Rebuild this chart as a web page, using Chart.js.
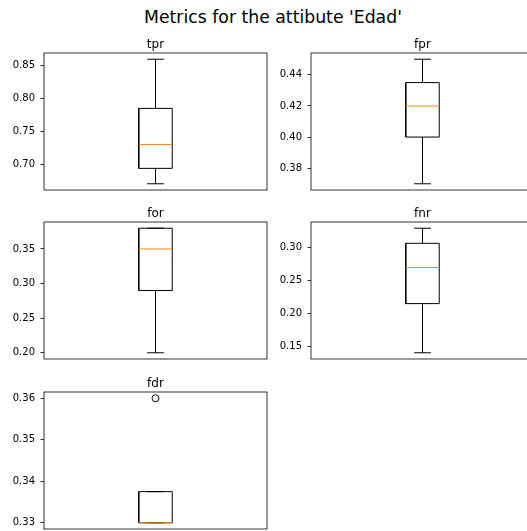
<!DOCTYPE html>
<html>
<head>
<meta charset="utf-8">
<script src="https://cdn.jsdelivr.net/npm/chart.js@4.4.1/dist/chart.umd.min.js"></script>
<style>
  body { margin: 0; background: #fff; overflow: hidden; width: 527px; height: 531px; position: relative; }
  #suptitle { position: absolute; left: 0; top: 9px; width: 546px; text-align: center;
              font: 17.28px 'DejaVu Sans'; line-height: 17.28px; color: #000; }
  canvas { position: absolute; }
</style>
</head>
<body>
<div id="suptitle">Metrics for the attibute 'Edad'</div>
<canvas id="c0"></canvas>
<canvas id="c1"></canvas>
<canvas id="c2"></canvas>
<canvas id="c3"></canvas>
<canvas id="c4"></canvas>
<script>
// box statistics per metric
const metrics = ['tpr', 'fpr', 'for', 'fnr', 'fdr'];
const whiskerLow = [0.67, 0.37, 0.20, 0.14, 0.33];
const q1 = [0.6935, 0.40, 0.29, 0.215, 0.33];
const median = [0.73, 0.42, 0.35, 0.27, 0.33];
const q3 = [0.785, 0.435, 0.38, 0.307, 0.3375];
const whiskerHigh = [0.86, 0.45, 0.38, 0.33, 0.3375];
const outliers = [[], [], [], [], [0.36]];
const yTicks = [
    [0.70, 0.75, 0.80, 0.85],
    [0.38, 0.40, 0.42, 0.44],
    [0.20, 0.25, 0.30, 0.35],
    [0.15, 0.20, 0.25, 0.30],
    [0.33, 0.34, 0.35, 0.36]
];

// grid placement: canvas left/top for each subplot
const cellLeft = [0, 267, 0, 267, 0];
const cellTop = [23, 23, 192, 192, 362];
const AXIS_W = 44, PLOT_W = 223, PLOT_H = 137, TITLE_H = 30;
const BOX_HALF = 0.075, CAP_HALF = 0.0375;

Chart.defaults.font.family = "'DejaVu Sans'";
Chart.defaults.color = '#000';

const framePlugin = {
    id: 'frame',
    afterDatasetsDraw(chart) {
        const { ctx, chartArea: a } = chart;
        ctx.save();
        ctx.strokeStyle = '#000';
        ctx.lineWidth = 0.8;
        ctx.strokeRect(a.left, a.top, a.right - a.left, a.bottom - a.top);
        ctx.restore();
    }
};

function segment(x0, y0, x1, y1) {
    return [{ x: x0, y: y0 }, { x: x1, y: y1 }];
}

function lineSet(data, color) {
    return {
        data: data,
        showLine: true,
        borderColor: color,
        borderWidth: 1,
        pointRadius: 0,
        pointHoverRadius: 0,
        fill: false
    };
}

function renderBox(i) {
    const canvas = document.getElementById('c' + i);
    canvas.width = AXIS_W + PLOT_W + 2;
    canvas.height = TITLE_H + PLOT_H + 1;
    canvas.style.left = cellLeft[i] + 'px';
    canvas.style.top = cellTop[i] + 'px';

    const lo = Math.min(whiskerLow[i], ...outliers[i]);
    const hi = Math.max(whiskerHigh[i], ...outliers[i]);
    const margin = (hi - lo) * 0.05;

    const datasets = [
        lineSet(segment(1 - BOX_HALF, median[i], 1 + BOX_HALF, median[i]), '#ff7f0e'),
        lineSet([
            { x: 1 - BOX_HALF, y: q1[i] }, { x: 1 + BOX_HALF, y: q1[i] }, { x: 1 + BOX_HALF, y: q3[i] },
            { x: 1 - BOX_HALF, y: q3[i] }, { x: 1 - BOX_HALF, y: q1[i] }
        ], '#000'),
        lineSet(segment(1, whiskerLow[i], 1, q1[i]), '#000'),
        lineSet(segment(1, q3[i], 1, whiskerHigh[i]), '#000'),
        lineSet(segment(1 - CAP_HALF, whiskerLow[i], 1 + CAP_HALF, whiskerLow[i]), '#000'),
        lineSet(segment(1 - CAP_HALF, whiskerHigh[i], 1 + CAP_HALF, whiskerHigh[i]), '#000'),
        {
            data: outliers[i].map(v => ({ x: 1, y: v })),
            showLine: false,
            pointStyle: 'circle',
            pointRadius: 3.5,
            pointHoverRadius: 3.5,
            borderColor: '#000',
            borderWidth: 1,
            backgroundColor: 'rgba(0,0,0,0)'
        }
    ];

    new Chart(canvas, {
        type: 'scatter',
        data: { datasets: datasets },
        options: {
            responsive: false,
            devicePixelRatio: 1,
            animation: false,
            events: [],
            layout: { autoPadding: false, padding: { left: 0, right: 2, top: 0, bottom: 1 } },
            scales: {
                x: { type: 'linear', min: 0.5, max: 1.5, display: false },
                y: {
                    min: lo - margin,
                    max: hi + margin,
                    afterFit: s => {
                        s.width = AXIS_W;
                        s.paddingTop = 0;
                        s.paddingBottom = 0;
                    },
                    afterBuildTicks: s => { s.ticks = yTicks[i].map(v => ({ value: v })); },
                    border: { display: false },
                    grid: {
                        drawOnChartArea: false,
                        drawTicks: true,
                        tickLength: 3.5,
                        color: '#000',
                        lineWidth: 0.8
                    },
                    ticks: {
                        autoSkip: false,
                        padding: 5.5,
                        color: '#000',
                        font: { size: 10 },
                        callback: v => Number(v).toFixed(2)
                    }
                }
            },
            plugins: {
                legend: { display: false },
                tooltip: { enabled: false },
                title: {
                    display: true,
                    fullSize: false,
                    text: metrics[i],
                    color: '#000',
                    font: { size: 12, weight: 'normal' },
                    padding: { top: 14.5, bottom: 1.1 }
                }
            }
        },
        plugins: [framePlugin]
    });
}

metrics.forEach((m, i) => renderBox(i));
</script>
</body>
</html>
